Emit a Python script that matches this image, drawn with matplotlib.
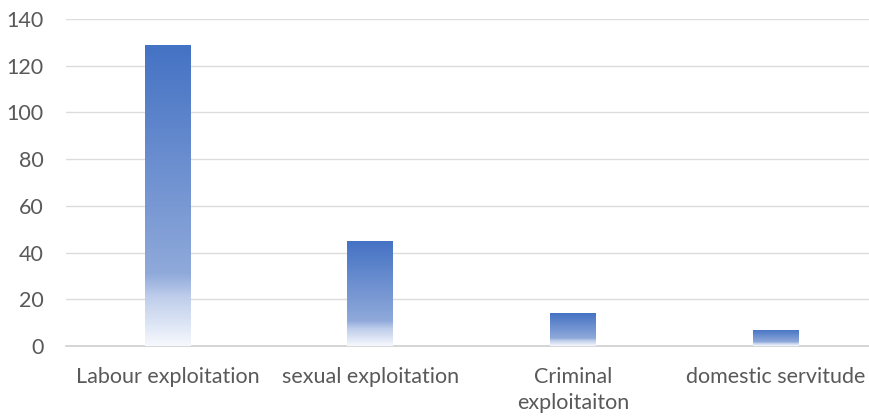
import numpy as np
import matplotlib.pyplot as plt
from matplotlib.colors import LinearSegmentedColormap

# Chart data
categories = ["Labour exploitation", "sexual exploitation", "Criminal\nexploitaiton", "domestic servitude"]
values = [129, 45, 14, 7]
y_ticks = [0, 20, 40, 60, 80, 100, 120, 140]

plt.rcParams['font.family'] = ['Lato', 'DejaVu Sans']

fig = plt.figure(figsize=(8.7, 4.18), dpi=100)
ax = fig.add_axes([0.076, 0.172, 0.932, 0.783])

x = np.arange(len(categories))
bars = ax.bar(x, values, width=0.225, color='none', zorder=3)

# Gradient from blue at top to near white at bottom
grad = LinearSegmentedColormap.from_list(
    "bar_grad", [(0.0, "#4472C4"), (0.76, "#8FA9DA"), (0.84, "#BFCEEB"), (1.0, "#F6F8FD")])
column = np.linspace(0, 1, 256).reshape(-1, 1)
for b in bars:
    x0, y0 = b.get_x(), b.get_y()
    w, h = b.get_width(), b.get_height()
    im = ax.imshow(column, cmap=grad, aspect='auto', extent=(x0, x0 + w, y0, y0 + h),
                   origin='upper', zorder=3)
    im.set_clip_path(b)

ax.set_xlim(-0.5, len(categories) - 0.5)
ax.set_ylim(0, 140)
ax.set_yticks(y_ticks)
ax.set_xticks(x)
ax.set_xticklabels(categories, linespacing=1.4)

ax.grid(axis='y', color='#dcdcdc', linewidth=1.0, zorder=0)
for s in ['top', 'right', 'left']:
    ax.spines[s].set_visible(False)
ax.spines['bottom'].set_color('#cfcfcf')
ax.spines['bottom'].set_linewidth(1.2)
ax.tick_params(axis='both', length=0, labelsize=15.5, colors='#595959')
ax.tick_params(axis='x', pad=15)
ax.tick_params(axis='y', pad=16)

fig.savefig("out.png", dpi=100)
